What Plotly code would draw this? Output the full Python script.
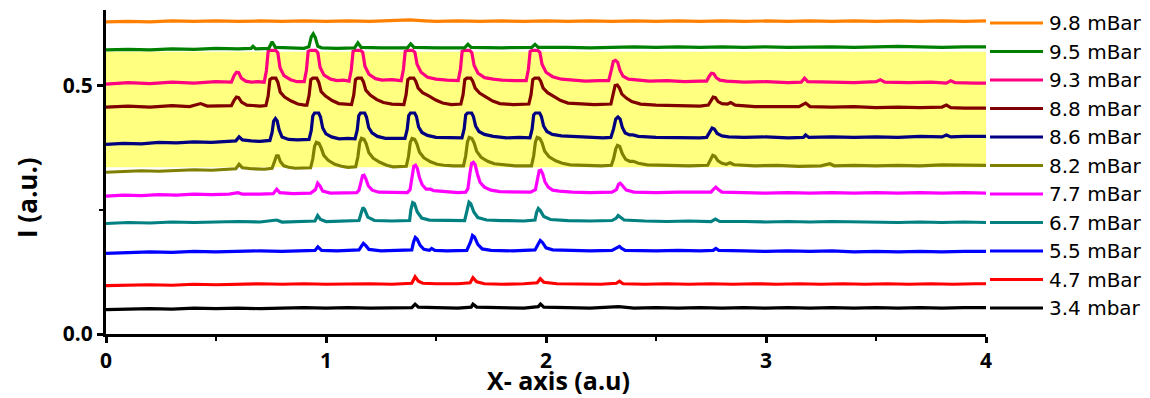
import plotly.graph_objects as go

# ---------------- data ----------------
labels = ["3.4 mbar", "4.7 mBar", "5.5 mBar", "6.7 mBar", "7.7 mBar", "8.2 mBar",
          "8.6 mBar", "8.8 mBar", "9.3 mBar", "9.5 mBar", "9.8 mBar"]
colors = ["#000000", "#FF0000", "#0000FF", "#008080", "#FF00FF", "#808000",
          "#000080", "#800000", "#FF0080", "#008000", "#FF8000"]

s_3_4 = [(0, 0.049), (0.1, 0.050), (0.2, 0.051), (0.3, 0.050), (0.4, 0.052), (0.5, 0.051), (0.6, 0.052),
         (0.7, 0.051), (0.8, 0.052), (0.9, 0.053), (1.0, 0.052), (1.1, 0.053), (1.2, 0.052), (1.3, 0.053),
         (1.39, 0.053), (1.405, 0.060), (1.42, 0.054), (1.5, 0.053), (1.6, 0.052), (1.66, 0.054),
         (1.668, 0.060), (1.685, 0.054), (1.8, 0.053), (1.9, 0.052), (1.965, 0.055), (1.975, 0.060),
         (1.99, 0.054), (2.1, 0.053), (2.2, 0.052), (2.33, 0.055), (2.4, 0.052), (2.5, 0.053), (2.6, 0.052),
         (2.7, 0.053), (2.8, 0.052), (2.9, 0.053), (3.0, 0.052), (3.1, 0.053), (3.2, 0.052), (3.3, 0.053),
         (3.4, 0.052), (3.5, 0.053), (3.6, 0.052), (3.7, 0.053), (3.8, 0.052), (3.9, 0.053), (4.0, 0.053)]

s_4_7 = [(0, 0.097), (0.1, 0.098), (0.2, 0.099), (0.3, 0.098), (0.4, 0.100), (0.5, 0.099), (0.6, 0.100),
         (0.7, 0.101), (0.8, 0.100), (0.9, 0.101), (1.0, 0.100), (1.1, 0.101), (1.2, 0.101), (1.3, 0.100),
         (1.39, 0.102), (1.405, 0.115), (1.42, 0.106), (1.44, 0.102), (1.5, 0.101), (1.6, 0.101),
         (1.655, 0.103), (1.668, 0.113), (1.685, 0.105), (1.72, 0.101), (1.8, 0.100), (1.9, 0.101),
         (1.96, 0.103), (1.974, 0.111), (1.99, 0.104), (2.05, 0.101), (2.15, 0.101), (2.25, 0.100),
         (2.32, 0.102), (2.334, 0.106), (2.35, 0.101), (2.45, 0.100), (2.55, 0.101), (2.65, 0.100),
         (2.75, 0.101), (2.85, 0.100), (2.95, 0.101), (3.05, 0.100), (3.15, 0.101), (3.25, 0.100),
         (3.35, 0.101), (3.45, 0.100), (3.55, 0.101), (3.65, 0.100), (3.75, 0.101), (3.85, 0.100),
         (3.95, 0.101), (4.0, 0.101)]

s_5_5 = [(0, 0.162), (0.1, 0.163), (0.2, 0.165), (0.3, 0.164), (0.4, 0.166), (0.5, 0.165), (0.6, 0.166),
         (0.7, 0.167), (0.8, 0.166), (0.9, 0.167), (0.95, 0.168), (0.963, 0.175), (0.98, 0.168),
         (1.05, 0.167), (1.12, 0.168), (1.15, 0.169), (1.162, 0.177), (1.170, 0.182), (1.180, 0.178),
         (1.195, 0.170), (1.25, 0.167), (1.32, 0.168), (1.39, 0.169), (1.398, 0.185), (1.406, 0.194),
         (1.414, 0.191), (1.428, 0.178), (1.445, 0.170), (1.47, 0.168), (1.48, 0.172), (1.495, 0.168),
         (1.55, 0.167), (1.64, 0.168), (1.657, 0.185), (1.666, 0.198), (1.675, 0.195), (1.69, 0.180),
         (1.71, 0.171), (1.75, 0.168), (1.85, 0.167), (1.95, 0.169), (1.966, 0.182), (1.974, 0.188),
         (1.984, 0.184), (2.0, 0.173), (2.03, 0.169), (2.1, 0.168), (2.2, 0.167), (2.3, 0.168),
         (2.326, 0.173), (2.334, 0.176), (2.344, 0.172), (2.36, 0.168), (2.5, 0.167), (2.6, 0.168),
         (2.7, 0.167), (2.76, 0.168), (2.772, 0.172), (2.785, 0.168), (2.9, 0.167), (3.0, 0.166),
         (3.1, 0.167), (3.2, 0.166), (3.3, 0.167), (3.4, 0.165), (3.5, 0.166), (3.6, 0.165), (3.7, 0.166),
         (3.8, 0.165), (3.9, 0.166), (4.0, 0.166)]

s_6_7 = [(0, 0.222), (0.1, 0.224), (0.2, 0.223), (0.3, 0.225), (0.4, 0.224), (0.5, 0.225), (0.6, 0.226),
         (0.7, 0.225), (0.776, 0.229), (0.8, 0.225), (0.9, 0.226), (0.95, 0.227), (0.962, 0.238),
         (0.975, 0.230), (1.0, 0.226), (1.08, 0.227), (1.15, 0.228), (1.16, 0.243), (1.168, 0.254),
         (1.176, 0.250), (1.19, 0.235), (1.22, 0.228), (1.3, 0.227), (1.38, 0.228), (1.386, 0.250),
         (1.394, 0.264), (1.402, 0.262), (1.415, 0.245), (1.435, 0.233), (1.47, 0.229), (1.55, 0.228),
         (1.63, 0.228), (1.642, 0.250), (1.65, 0.265), (1.658, 0.262), (1.672, 0.245), (1.69, 0.234),
         (1.73, 0.229), (1.8, 0.228), (1.9, 0.227), (1.95, 0.229), (1.957, 0.244), (1.965, 0.252),
         (1.974, 0.248), (1.99, 0.236), (2.02, 0.230), (2.1, 0.228), (2.2, 0.227), (2.3, 0.228),
         (2.32, 0.233), (2.328, 0.238), (2.338, 0.235), (2.355, 0.229), (2.45, 0.227), (2.55, 0.226),
         (2.65, 0.227), (2.75, 0.226), (2.77, 0.231), (2.79, 0.226), (2.9, 0.226), (3.0, 0.225),
         (3.1, 0.226), (3.2, 0.225), (3.3, 0.226), (3.4, 0.225), (3.5, 0.225), (3.6, 0.224), (3.7, 0.225),
         (3.8, 0.224), (3.9, 0.225), (4.0, 0.224)]

s_7_7 = [(0, 0.277), (0.08, 0.279), (0.16, 0.278), (0.24, 0.280), (0.32, 0.279), (0.40, 0.281),
         (0.48, 0.280), (0.56, 0.281), (0.6, 0.284), (0.62, 0.281), (0.7, 0.281), (0.76, 0.282),
         (0.776, 0.291), (0.79, 0.284), (0.85, 0.282), (0.93, 0.283), (0.952, 0.290), (0.962, 0.303),
         (0.972, 0.298), (0.985, 0.287), (1.02, 0.283), (1.08, 0.284), (1.14, 0.284), (1.150, 0.289),
         (1.159, 0.308), (1.166, 0.318), (1.173, 0.319), (1.181, 0.312), (1.192, 0.298), (1.21, 0.289),
         (1.24, 0.285), (1.30, 0.285), (1.37, 0.284), (1.382, 0.290), (1.392, 0.322), (1.399, 0.337),
         (1.407, 0.339), (1.415, 0.333), (1.425, 0.314), (1.437, 0.300), (1.455, 0.291), (1.475, 0.291),
         (1.49, 0.288), (1.55, 0.285), (1.60, 0.284), (1.635, 0.285), (1.645, 0.292), (1.655, 0.325),
         (1.662, 0.343), (1.670, 0.345), (1.678, 0.340), (1.688, 0.322), (1.70, 0.305), (1.72, 0.295),
         (1.75, 0.289), (1.79, 0.286), (1.85, 0.285), (1.93, 0.285), (1.952, 0.290), (1.962, 0.318),
         (1.969, 0.328), (1.977, 0.329), (1.985, 0.322), (1.995, 0.306), (2.01, 0.295), (2.03, 0.289),
         (2.06, 0.287), (2.12, 0.285), (2.2, 0.284), (2.3, 0.285), (2.32, 0.290), (2.33, 0.301),
         (2.338, 0.303), (2.348, 0.298), (2.365, 0.289), (2.4, 0.285), (2.5, 0.284), (2.6, 0.285),
         (2.7, 0.284), (2.75, 0.285), (2.762, 0.291), (2.772, 0.295), (2.784, 0.290), (2.80, 0.285),
         (2.9, 0.284), (3.0, 0.283), (3.1, 0.284), (3.2, 0.283), (3.3, 0.284), (3.4, 0.283), (3.5, 0.284),
         (3.6, 0.283), (3.7, 0.284), (3.8, 0.283), (3.9, 0.284), (4.0, 0.283)]

s_8_2 = [(0, 0.325), (0.08, 0.327), (0.16, 0.328), (0.24, 0.327), (0.32, 0.329), (0.40, 0.330),
         (0.48, 0.329), (0.56, 0.331), (0.59, 0.332), (0.605, 0.341), (0.62, 0.334), (0.66, 0.332),
         (0.72, 0.331), (0.755, 0.333), (0.766, 0.345), (0.775, 0.358), (0.783, 0.358), (0.793, 0.346),
         (0.808, 0.338), (0.83, 0.335), (0.86, 0.333), (0.9, 0.334), (0.93, 0.334), (0.94, 0.352),
         (0.948, 0.377), (0.956, 0.385), (0.968, 0.383), (0.978, 0.374), (0.99, 0.359), (1.01, 0.349),
         (1.04, 0.341), (1.07, 0.337), (1.10, 0.335), (1.135, 0.336), (1.145, 0.356), (1.153, 0.384),
         (1.161, 0.393), (1.173, 0.391), (1.183, 0.382), (1.195, 0.364), (1.215, 0.353), (1.245, 0.345),
         (1.275, 0.339), (1.305, 0.336), (1.365, 0.337), (1.375, 0.357), (1.383, 0.385), (1.391, 0.393),
         (1.403, 0.391), (1.413, 0.382), (1.425, 0.365), (1.445, 0.354), (1.475, 0.346), (1.505, 0.341),
         (1.535, 0.339), (1.58, 0.338), (1.625, 0.338), (1.635, 0.358), (1.643, 0.386), (1.651, 0.395),
         (1.663, 0.393), (1.673, 0.384), (1.685, 0.367), (1.705, 0.355), (1.735, 0.347), (1.765, 0.342),
         (1.80, 0.340), (1.86, 0.338), (1.934, 0.338), (1.944, 0.358), (1.952, 0.386), (1.960, 0.395),
         (1.972, 0.393), (1.982, 0.384), (1.994, 0.367), (2.014, 0.356), (2.044, 0.348), (2.074, 0.343),
         (2.11, 0.340), (2.18, 0.339), (2.25, 0.338), (2.297, 0.339), (2.307, 0.352), (2.317, 0.372),
         (2.325, 0.379), (2.335, 0.377), (2.347, 0.362), (2.362, 0.351), (2.38, 0.347), (2.397, 0.347),
         (2.42, 0.343), (2.46, 0.340), (2.55, 0.339), (2.65, 0.338), (2.735, 0.339), (2.748, 0.350),
         (2.758, 0.359), (2.768, 0.357), (2.782, 0.348), (2.80, 0.343), (2.82, 0.341), (2.836, 0.344),
         (2.855, 0.340), (2.95, 0.338), (3.05, 0.339), (3.15, 0.337), (3.25, 0.338), (3.29, 0.342),
         (3.31, 0.338), (3.4, 0.339), (3.5, 0.338), (3.6, 0.339), (3.7, 0.338), (3.8, 0.340), (3.9, 0.339),
         (4.0, 0.339)]

s_8_6 = [(0, 0.381), (0.08, 0.383), (0.16, 0.382), (0.24, 0.385), (0.32, 0.384), (0.40, 0.386),
         (0.48, 0.385), (0.56, 0.387), (0.59, 0.388), (0.605, 0.396), (0.62, 0.390), (0.66, 0.388),
         (0.70, 0.387), (0.745, 0.389), (0.755, 0.405), (0.762, 0.428), (0.770, 0.433), (0.778, 0.428),
         (0.787, 0.410), (0.80, 0.396), (0.83, 0.391), (0.87, 0.390), (0.923, 0.391), (0.933, 0.409),
         (0.940, 0.438), (0.948, 0.444), (0.967, 0.444), (0.975, 0.436), (0.985, 0.414), (1.0, 0.402),
         (1.025, 0.396), (1.06, 0.392), (1.10, 0.393), (1.132, 0.392), (1.142, 0.410), (1.149, 0.439),
         (1.157, 0.444), (1.176, 0.444), (1.184, 0.436), (1.194, 0.415), (1.209, 0.404), (1.234, 0.397),
         (1.27, 0.393), (1.32, 0.393), (1.359, 0.393), (1.369, 0.411), (1.376, 0.439), (1.384, 0.444),
         (1.403, 0.444), (1.411, 0.437), (1.421, 0.416), (1.436, 0.405), (1.461, 0.399), (1.50, 0.395),
         (1.56, 0.394), (1.618, 0.394), (1.628, 0.412), (1.635, 0.440), (1.643, 0.444), (1.662, 0.444),
         (1.670, 0.437), (1.680, 0.418), (1.695, 0.407), (1.72, 0.401), (1.76, 0.397), (1.82, 0.394),
         (1.88, 0.395), (1.927, 0.394), (1.937, 0.412), (1.944, 0.440), (1.952, 0.444), (1.971, 0.444),
         (1.979, 0.437), (1.989, 0.418), (2.004, 0.407), (2.029, 0.401), (2.07, 0.398), (2.14, 0.396),
         (2.2, 0.395), (2.26, 0.394), (2.295, 0.395), (2.307, 0.412), (2.317, 0.432), (2.327, 0.436),
         (2.337, 0.432), (2.347, 0.415), (2.36, 0.404), (2.38, 0.400), (2.395, 0.400), (2.42, 0.397),
         (2.5, 0.395), (2.6, 0.394), (2.7, 0.394), (2.73, 0.395), (2.745, 0.407), (2.755, 0.414),
         (2.765, 0.412), (2.778, 0.403), (2.80, 0.398), (2.83, 0.396), (2.9, 0.395), (3.0, 0.396),
         (3.1, 0.394), (3.17, 0.395), (3.18, 0.400), (3.195, 0.395), (3.3, 0.396), (3.4, 0.395),
         (3.5, 0.396), (3.6, 0.395), (3.7, 0.397), (3.8, 0.396), (3.82, 0.400), (3.84, 0.396),
         (3.9, 0.397), (4.0, 0.397)]

s_8_8 = [(0, 0.456), (0.1, 0.458), (0.2, 0.456), (0.3, 0.459), (0.38, 0.457), (0.43, 0.463),
         (0.46, 0.458), (0.52, 0.458), (0.57, 0.459), (0.583, 0.470), (0.593, 0.476), (0.603, 0.475),
         (0.616, 0.466), (0.64, 0.460), (0.67, 0.459), (0.70, 0.458), (0.727, 0.459), (0.737, 0.478),
         (0.745, 0.511), (0.754, 0.514), (0.772, 0.514), (0.781, 0.506), (0.792, 0.486), (0.812, 0.476),
         (0.842, 0.468), (0.872, 0.462), (0.902, 0.460), (0.913, 0.460), (0.923, 0.479), (0.931, 0.511),
         (0.940, 0.514), (0.958, 0.514), (0.967, 0.506), (0.978, 0.487), (0.998, 0.478), (1.028, 0.469),
         (1.058, 0.463), (1.09, 0.461), (1.116, 0.461), (1.126, 0.480), (1.134, 0.511), (1.143, 0.514),
         (1.161, 0.514), (1.170, 0.507), (1.181, 0.490), (1.201, 0.480), (1.231, 0.471), (1.261, 0.465),
         (1.30, 0.462), (1.354, 0.461), (1.364, 0.481), (1.372, 0.511), (1.381, 0.514), (1.399, 0.514),
         (1.408, 0.508), (1.419, 0.494), (1.439, 0.485), (1.469, 0.478), (1.499, 0.470), (1.53, 0.464),
         (1.57, 0.461), (1.613, 0.462), (1.623, 0.481), (1.631, 0.511), (1.640, 0.514), (1.658, 0.514),
         (1.667, 0.508), (1.678, 0.494), (1.698, 0.484), (1.728, 0.476), (1.758, 0.468), (1.79, 0.463),
         (1.85, 0.461), (1.922, 0.462), (1.932, 0.481), (1.940, 0.511), (1.949, 0.514), (1.967, 0.514),
         (1.976, 0.508), (1.987, 0.494), (2.007, 0.485), (2.037, 0.477), (2.067, 0.469), (2.10, 0.464),
         (2.16, 0.462), (2.22, 0.461), (2.295, 0.462), (2.305, 0.480), (2.314, 0.499), (2.324, 0.500),
         (2.334, 0.494), (2.345, 0.482), (2.365, 0.474), (2.39, 0.467), (2.43, 0.462), (2.5, 0.460),
         (2.6, 0.459), (2.7, 0.458), (2.738, 0.460), (2.75, 0.470), (2.76, 0.476), (2.77, 0.475),
         (2.782, 0.467), (2.80, 0.463), (2.825, 0.462), (2.84, 0.465), (2.86, 0.460), (2.95, 0.457),
         (3.05, 0.457), (3.15, 0.457), (3.18, 0.464), (3.20, 0.457), (3.3, 0.456), (3.4, 0.457),
         (3.5, 0.455), (3.6, 0.456), (3.7, 0.455), (3.8, 0.456), (3.82, 0.460), (3.84, 0.455),
         (3.9, 0.454), (4.0, 0.454)]

s_9_3 = [(0, 0.502), (0.1, 0.505), (0.2, 0.503), (0.3, 0.506), (0.4, 0.504), (0.5, 0.507), (0.57, 0.506),
         (0.583, 0.520), (0.593, 0.526), (0.603, 0.525), (0.615, 0.514), (0.635, 0.508), (0.66, 0.506),
         (0.69, 0.507), (0.719, 0.506), (0.729, 0.529), (0.737, 0.568), (0.747, 0.570), (0.771, 0.570),
         (0.781, 0.565), (0.791, 0.535), (0.809, 0.519), (0.839, 0.511), (0.869, 0.507), (0.901, 0.507),
         (0.911, 0.530), (0.919, 0.568), (0.929, 0.570), (0.953, 0.570), (0.963, 0.565), (0.973, 0.536),
         (0.991, 0.520), (1.021, 0.512), (1.051, 0.509), (1.08, 0.510), (1.105, 0.508), (1.115, 0.531),
         (1.123, 0.568), (1.133, 0.570), (1.157, 0.570), (1.167, 0.566), (1.177, 0.538), (1.195, 0.522),
         (1.225, 0.513), (1.255, 0.510), (1.30, 0.511), (1.342, 0.509), (1.352, 0.532), (1.360, 0.568),
         (1.370, 0.570), (1.394, 0.570), (1.404, 0.566), (1.414, 0.542), (1.432, 0.526), (1.462, 0.516),
         (1.50, 0.512), (1.55, 0.510), (1.601, 0.509), (1.611, 0.532), (1.619, 0.568), (1.629, 0.570),
         (1.653, 0.570), (1.663, 0.565), (1.673, 0.540), (1.691, 0.524), (1.721, 0.515), (1.76, 0.512),
         (1.80, 0.510), (1.86, 0.509), (1.910, 0.509), (1.920, 0.532), (1.928, 0.568), (1.938, 0.570),
         (1.962, 0.570), (1.972, 0.566), (1.982, 0.542), (2.000, 0.526), (2.030, 0.517), (2.07, 0.512),
         (2.12, 0.510), (2.18, 0.508), (2.24, 0.509), (2.285, 0.509), (2.297, 0.530), (2.306, 0.548),
         (2.316, 0.550), (2.326, 0.546), (2.336, 0.530), (2.35, 0.518), (2.375, 0.512), (2.41, 0.510),
         (2.47, 0.508), (2.55, 0.509), (2.63, 0.507), (2.70, 0.508), (2.73, 0.508), (2.742, 0.518),
         (2.752, 0.524), (2.762, 0.523), (2.774, 0.515), (2.79, 0.510), (2.82, 0.508), (2.9, 0.506),
         (3.0, 0.507), (3.1, 0.505), (3.16, 0.506), (3.175, 0.514), (3.19, 0.507), (3.3, 0.506),
         (3.4, 0.505), (3.5, 0.507), (3.52, 0.511), (3.54, 0.506), (3.65, 0.505), (3.75, 0.506),
         (3.82, 0.504), (3.84, 0.509), (3.86, 0.505), (3.95, 0.504), (4.0, 0.504)]

s_9_5 = [(0, 0.571), (0.1, 0.572), (0.2, 0.571), (0.3, 0.573), (0.4, 0.572), (0.5, 0.574), (0.6, 0.573),
         (0.66, 0.574), (0.668, 0.578), (0.68, 0.573), (0.74, 0.574), (0.755, 0.587), (0.77, 0.576),
         (0.9, 0.574), (0.922, 0.577), (0.933, 0.597), (0.942, 0.603), (0.951, 0.596), (0.963, 0.578),
         (0.98, 0.575), (1.05, 0.574), (1.13, 0.575), (1.145, 0.585), (1.16, 0.576), (1.25, 0.575),
         (1.37, 0.575), (1.385, 0.583), (1.40, 0.576), (1.5, 0.575), (1.63, 0.575), (1.645, 0.582),
         (1.66, 0.576), (1.8, 0.575), (1.935, 0.576), (1.95, 0.582), (1.965, 0.576), (2.1, 0.576),
         (2.2, 0.575), (2.3, 0.576), (2.4, 0.577), (2.5, 0.576), (2.6, 0.577), (2.7, 0.576), (2.8, 0.577),
         (2.9, 0.576), (3.0, 0.577), (3.1, 0.576), (3.2, 0.577), (3.3, 0.577), (3.4, 0.576), (3.5, 0.577),
         (3.6, 0.578), (3.7, 0.577), (3.8, 0.576), (3.9, 0.577), (4.0, 0.577)]

s_9_8 = [(0, 0.627), (0.1, 0.628), (0.2, 0.627), (0.3, 0.629), (0.4, 0.628), (0.5, 0.629), (0.6, 0.628),
         (0.7, 0.629), (0.8, 0.628), (0.9, 0.629), (1.0, 0.628), (1.1, 0.629), (1.2, 0.628), (1.3, 0.629),
         (1.38, 0.631), (1.45, 0.629), (1.5, 0.628), (1.6, 0.629), (1.7, 0.628), (1.8, 0.629), (1.9, 0.628),
         (2.0, 0.629), (2.1, 0.628), (2.2, 0.629), (2.3, 0.628), (2.4, 0.629), (2.5, 0.628), (2.6, 0.629),
         (2.7, 0.628), (2.8, 0.629), (2.9, 0.628), (3.0, 0.629), (3.1, 0.628), (3.2, 0.629), (3.3, 0.628),
         (3.4, 0.629), (3.5, 0.628), (3.6, 0.629), (3.7, 0.628), (3.8, 0.629), (3.9, 0.628), (4.0, 0.629)]

series = [s_3_4, s_4_7, s_5_5, s_6_7, s_7_7, s_8_2, s_8_6, s_8_8, s_9_3, s_9_5, s_9_8]

x_ticks = [0, 1, 2, 3, 4]
y_ticks = [0.0, 0.5]
y_ticktext = ["0.0", "0.5"]
band_low, band_high = 0.335, 0.567   # highlighted (yellow) intensity band

# ---------------- figure ----------------
fig = go.Figure()
for lab, col, pts in zip(labels, colors, series):
    fig.add_trace(go.Scatter(
        x=[p[0] for p in pts], y=[p[1] for p in pts], mode="lines", name=lab,
        line=dict(color=col, width=3.2), showlegend=False))

fig.add_shape(type="rect", xref="x", yref="y", x0=0, x1=4, y0=band_low, y1=band_high,
              fillcolor="#FFFF80", line=dict(width=0), layer="below")

L, R, T, B = 106, 164, 10, 64
W, H = 1150, 398
pw, ph = W - L - R, H - T - B


def px_x(px):
    return (px - L) / pw


def px_y(py):
    return (H - B - py) / ph


# manual legend (top entry = last series)
for i, (lab, col) in enumerate(zip(labels[::-1], colors[::-1])):
    yy = px_y(23 + 28.5 * i)
    fig.add_shape(type="line", xref="paper", yref="paper", x0=px_x(990), x1=px_x(1043),
                  y0=yy, y1=yy, line=dict(color=col, width=3))
    fig.add_annotation(xref="paper", yref="paper", x=px_x(1047), y=yy, text=lab,
                       showarrow=False, xanchor="left", yanchor="middle",
                       font=dict(family="DejaVu Sans", size=20, color="#000"))

fig.add_annotation(xref="paper", yref="paper", x=px_x(558), y=px_y(380), text="X- axis (a.u)",
                   showarrow=False, xanchor="center", yanchor="middle", borderpad=0,
                   font=dict(family="Open Sans", size=25, color="#000", weight="bold"))
fig.add_annotation(xref="paper", yref="paper", x=px_x(27), y=px_y(198), text="I (a.u.)",
                   showarrow=False, xanchor="center", yanchor="middle", textangle=-90,
                   font=dict(family="Open Sans", size=26, color="#000", weight="bold"))

axis_common = dict(showline=True, linecolor="#000", linewidth=3, ticks="outside", ticklen=6,
                   tickwidth=3, tickcolor="#000", showgrid=False, zeroline=False,
                   tickfont=dict(family="Open Sans", size=21, color="#000", weight="bold"))

fig.update_xaxes(range=[0, 4], tickvals=x_ticks, ticktext=[str(v) for v in x_ticks],
                 minor=dict(dtick=0.5, ticks="outside", ticklen=4, tickwidth=2, tickcolor="#000"),
                 **axis_common)
fig.update_yaxes(range=[0, 0.651], tickvals=y_ticks, ticktext=y_ticktext,
                 minor=dict(tickvals=[0.25], ticks="outside", ticklen=4, tickwidth=2, tickcolor="#000"),
                 **axis_common)

fig.update_layout(width=W, height=H, margin=dict(l=L, r=R, t=T, b=B),
                  plot_bgcolor="white", paper_bgcolor="white")

fig.write_html("out.html")
